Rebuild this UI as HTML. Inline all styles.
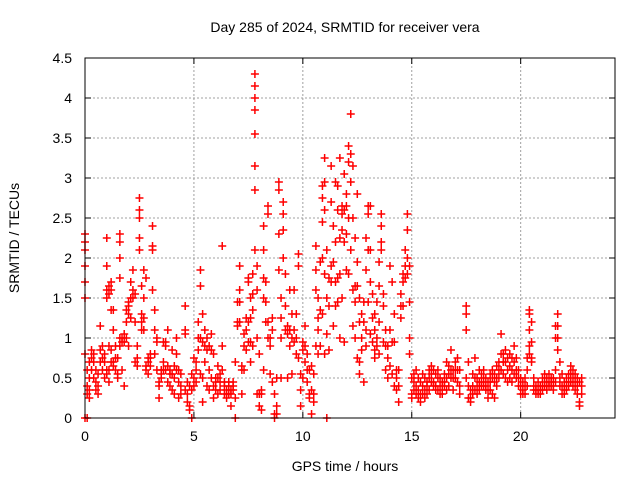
<!DOCTYPE html>
<html><head><meta charset="utf-8"><style>
body{margin:0;background:#fff}
svg text{font-family:"Liberation Sans",sans-serif;font-size:14px;fill:#000}
</style></head><body>
<svg id="chart" width="640" height="480" xmlns="http://www.w3.org/2000/svg">
<rect width="640" height="480" fill="#fff"/>
<text x="345" y="32" text-anchor="middle">Day 285 of 2024, SRMTID for receiver vera</text>
<text x="345" y="471" text-anchor="middle">GPS time / hours</text>
<text transform="translate(19,238) rotate(-90)" text-anchor="middle">SRMTID / TECUs</text>
<g id="grid"></g>
<g id="marks"></g>
<rect x="85" y="58" width="530" height="360" fill="none" stroke="#000" stroke-width="1"/>
</svg>
<script>
const xTicks=[0,5,10,15,20];
const yTicks=[0,0.5,1,1.5,2,2.5,3,3.5,4,4.5];
const yTickLabels=["0","0.5","1","1.5","2","2.5","3","3.5","4","4.5"];
const hours=[0,0.1,0.2,0.3,0.4,0.5,0.6,0.7,0.8,0.9,1.0,1.1,1.2,1.3,1.4,1.5,1.6,1.7,1.8,1.9,2.0,2.1,2.2,2.3,2.4,2.5,2.6,2.7,2.8,2.9,3.0,3.1,3.2,3.3,3.4,3.5,3.6,3.7,3.8,3.9,4.0,4.1,4.2,4.3,4.4,4.6,4.7,4.8,4.9,5.0,5.1,5.2,5.3,5.4,5.5,5.6,5.7,5.8,5.9,6.0,6.1,6.2,6.3,6.4,6.5,6.6,6.7,6.8,6.9,7.0,7.1,7.2,7.3,7.4,7.5,7.6,7.7,7.8,7.9,8.0,8.1,8.2,8.3,8.4,8.5,8.6,8.7,8.8,8.9,9.0,9.1,9.2,9.3,9.4,9.5,9.6,9.7,9.8,9.9,10.0,10.1,10.2,10.3,10.4,10.5,10.6,10.7,10.8,10.9,11.0,11.1,11.2,11.3,11.4,11.5,11.6,11.7,11.8,11.9,12.0,12.1,12.2,12.3,12.4,12.5,12.6,12.7,12.8,12.9,13.0,13.1,13.2,13.3,13.4,13.5,13.6,13.7,13.8,13.9,14.0,14.1,14.2,14.3,14.4,14.5,14.6,14.7,14.8,14.9,15.0,15.1,15.2,15.3,15.4,15.5,15.6,15.7,15.8,15.9,16.0,16.1,16.2,16.3,16.4,16.5,16.6,16.7,16.8,16.9,17.0,17.1,17.2,17.5,17.6,17.7,17.8,17.9,18.0,18.1,18.2,18.3,18.4,18.5,18.6,18.7,18.8,18.9,19.0,19.1,19.2,19.3,19.4,19.5,19.6,19.7,19.8,19.9,20.0,20.1,20.2,20.3,20.4,20.5,20.6,20.7,20.8,20.9,21.0,21.1,21.2,21.3,21.4,21.5,21.6,21.7,21.8,21.9,22.0,22.1,22.2,22.3,22.4,22.5,22.6,22.7,22.8];
const srmtid=[[2.3,2.2,2.1,1.9,1.7,1.5,0.8,0],[0.6,0.4,0.3,0],[0.7,0.5,0.35,0.25],[0.85,0.75,0.6],[0.8,0.7,0.5],[0.6,0.45,0.35],[0.4,0.3,0.55],[0.85,0.7,1.15],[0.9,0.75,0.6],[0.7,0.5,0.8],[2.25,1.9,1.6,1.5,0.6,0.55],[1.65,1.55,0.9,0.45,0.6],[1.7,1.6,1.35,0.85,0.7],[1.35,1.1,0.7,0.65],[0.9,0.75,0.6],[0.75,0.55,0.5],[2.3,2.2,2.0,1.75,1.0,0.9],[1.0,0.95,0.6],[1.05,0.95,0.4],[1.35,1.2,1.0],[1.45,1.4,1.3,0.9],[1.7,1.5,1.25],[1.85,1.6,1.5],[1.55,1.2,0.7],[0.75,0.65,0.9],[2.75,2.6,2.5,2.25,2.1],[1.65,1.3,1.2,1.1],[1.85,1.5,1.25,1.1],[1.75,0.65,0.6],[0.7,0.75,0.55],[0.8,0.75,0.65],[2.4,2.15,2.1,1.6],[1.35,1.1,0.8],[1.0,0.95,0.6],[0.45,0.4,0.25],[0.6,0.55,0.5],[0.95,0.7,0.6],[0.95,0.9,0.6],[1.1,0.65,0.45],[0.6,0.55,0.4],[0.85,0.55,0.35],[0.65,0.5,0.3],[1.0,0.8,0.6],[0.6,0.45,0.25],[0.55,0.4,0.3],[1.4,1.1,1.05,0.35],[0.45,0.3,0.2],[0.4,0.15,0.1],[0.55,0.35,0],[0.75,0.5,0.4],[0.7,0.6,0.45],[1.2,1.0,0.85],[1.85,1.65,1.0,0.55],[1.3,0.95,0.5,0.2],[1.1,0.9,0.7],[1.0,0.85,0.4],[0.9,0.6,0.35],[1.05,0.85,0.5],[0.8,0.4,0.25],[0.5,0.35,0.45],[0.65,0.5,0.3],[0.55,0.45,0.35],[2.15,0.9,0.6],[0.45,0.3,0.4],[0.35,0.3,0.25],[0.4,0.3,0.45],[0.35,0.3,0.15],[0.45,0.4,0.35],[0.7,0.25,0],[1.45,1.2,1.15],[1.9,1.6,1.45,1.2],[0.65,0.6,0.3],[1.05,0.9,0.6],[1.25,1.1,0.85],[1.75,1.7,1.2,0.95],[1.5,1.25,0.95,0.7],[1.8,1.55,1.35,0.9],[4.3,4.15,4.0,3.85,3.55,3.15,2.85,2.1],[1.9,1.6,1.0,0.3],[0.8,0.3,0.15],[0.35,0.3,0.1],[2.4,2.1,1.75,1.5,0.6],[1.7,1.45,1.2],[2.65,2.55,1.2,1.0],[1.0,0.9,0.55],[1.25,1.1,0.45],[0.3,0.05,0],[0.5,0.15,0.05],[2.95,2.85,2.3,1.85],[1.5,1.25,1.0,0.5],[2.7,2.55,2.35,2.0],[1.8,1.4,1.1],[1.15,1.05,0.5],[1.6,1.1,0.9],[1.3,1.0,0.55],[1.6,1.1,0.95],[1.3,1.0,0.8],[2.05,1.9,0.75],[0.55,0.35,0.15],[0.95,0.85,0.5],[1.15,0.9,0.7],[0.8,0.6,0.45],[0.6,0.3,0.25],[0.65,0.35,0.05],[0.55,0.3,0.2],[2.15,1.85,1.6,0.9],[1.5,1.25,1.1,0.8],[1.95,1.35,0.9],[2.9,2.75,2.45,2.0,1.3],[3.25,2.95,2.6,1.8,0.8],[2.1,1.5,1.05,0],[1.75,1.4,0.85],[3.15,2.7,1.9,1.7],[2.4,1.95,1.15],[2.95,2.2,1.7,1.4],[2.9,2.6,1.75,1.45],[3.25,2.25,1.8,1.0],[2.65,2.55,2.35,1.5],[3.05,2.6,2.2,0.95],[2.8,2.65,2.3,1.85],[3.4,3.2,2.5,1.8],[3.8,3.3,2.95,2.1],[3.15,2.5,1.6,1.15],[2.25,1.65,1.45,1.0],[2.8,1.95,1.65,0.75],[1.5,1.2,0.7,0.55],[1.3,1.0,0.85],[1.45,1.2,0.45],[2.25,1.85,1.1,0.9],[2.65,2.55,2.1,1.45],[2.65,2.1,1.7,1.05],[1.55,1.25,0.95],[1.3,1.1,0.85,0.75],[1.45,1.0,0.9],[1.95,1.65,1.2,0.8],[2.55,2.4,2.2,2.1],[1.55,1.4,0.95],[1.1,0.9,0.6],[0.9,0.75,0.5],[1.9,1.1,0.65],[1.7,0.95,0.55],[1.3,0.95,0.4],[0.6,0.5,0.35],[0.6,0.4,0.2],[1.55,1.4,1.25],[1.8,1.7,1.4],[2.1,1.9,1.75],[2.55,2.35,2.0,1.8],[1.9,1.45,1.0,0.8],[0.5,0.3,0.25],[0.45,0.35,0.55],[0.6,0.4,0.3],[0.5,0.35,0.25],[0.45,0.3,0.2],[0.55,0.4,0.3],[0.5,0.35,0.25],[0.45,0.3,0.4],[0.6,0.5,0.35],[0.65,0.55,0.45],[0.6,0.45,0.4],[0.55,0.4,0.35],[0.6,0.5,0.35],[0.5,0.4,0.3],[0.45,0.35,0.3],[0.55,0.45,0.4],[0.7,0.5,0.35],[0.65,0.55,0.4],[0.85,0.6,0.5],[0.6,0.5,0.35],[0.7,0.6,0.5],[0.75,0.6,0.45],[0.6,0.4,0.3],[1.4,1.3,1.1,0.5],[0.7,0.4,0.25],[0.35,0.25,0.2],[0.55,0.4,0.3],[0.75,0.5,0.35],[0.5,0.4,0.3],[0.6,0.45,0.35],[0.55,0.45,0.4],[0.6,0.5,0.4],[0.5,0.4,0.35],[0.45,0.35,0.25],[0.55,0.45,0.35],[0.6,0.5,0.3],[0.55,0.45,0.25],[0.65,0.5,0.4],[0.7,0.6,0.5],[1.05,0.8,0.6],[0.8,0.7,0.55],[0.85,0.7,0.5],[0.75,0.6,0.45],[0.8,0.65,0.5],[0.75,0.6,0.45],[0.9,0.7,0.55],[0.75,0.6,0.5],[0.6,0.5,0.4],[0.5,0.4,0.3],[0.45,0.35,0.3],[0.5,0.4,0.3],[0.75,0.6,0.4],[1.35,1.3,1.1,0.9,0.8],[1.2,0.95,0.75,0.7],[0.5,0.4,0.35],[0.4,0.35,0.3],[0.45,0.35,0.3],[0.4,0.3,0.35],[0.5,0.4,0.35],[0.55,0.45,0.4],[0.5,0.4,0.35],[0.55,0.45,0.4],[0.5,0.45,0.4],[0.5,0.4,0.35],[1.15,1.0,0.6,0.45],[1.3,1.15,1.0,0.85],[0.7,0.5,0.4],[0.55,0.4,0.3],[0.45,0.35,0.3],[0.5,0.4,0.35],[0.55,0.45,0.4],[0.65,0.55,0.45],[0.6,0.5,0.4],[0.55,0.45,0.35],[0.5,0.4,0.3],[0.45,0.2,0.15],[0.5,0.4,0.3]];
const X0=85,X1=615,Y0=418,Y1=58,XMAX=24.33,YMAX=4.5;
const sx=v=>X0+v/XMAX*(X1-X0);
const sy=v=>Y0-v/YMAX*(Y0-Y1);
const NS="http://www.w3.org/2000/svg";
const grid=document.getElementById('grid');
const marks=document.getElementById('marks');
function mk(tag,attrs,parent){const e=document.createElementNS(NS,tag);for(const k in attrs)e.setAttribute(k,attrs[k]);parent.appendChild(e);return e;}
xTicks.forEach(t=>{
  const x=sx(t);
  if(t>0){const g=mk('line',{x1:x,x2:x,y1:Y1,y2:Y0,stroke:'#a0a0a0','stroke-dasharray':'2,2'},grid);
  
  }
  mk('line',{x1:x,x2:x,y1:Y0,y2:Y0-6,stroke:'#000'},grid);
  mk('line',{x1:x,x2:x,y1:Y1,y2:Y1+6,stroke:'#000'},grid);
  const l=mk('text',{x:x,y:Y0+23,'text-anchor':'middle'},grid);l.textContent=String(t);
  
  
});
yTicks.forEach((t,i)=>{
  const y=sy(t);
  if(t>0&&t<YMAX){const g=mk('line',{x1:X0,x2:X1,y1:y,y2:y,stroke:'#a0a0a0','stroke-dasharray':'2,2'},grid);
  
  }
  mk('line',{x1:X0,x2:X0+6,y1:y,y2:y,stroke:'#000'},grid);
  mk('line',{x1:X1,x2:X1-6,y1:y,y2:y,stroke:'#000'},grid);
  const l=mk('text',{x:72,y:y+5,'text-anchor':'end'},grid);l.textContent=yTickLabels[i];
  
  
});
hours.forEach((h,i)=>{
  (srmtid[i]||[]).forEach(v=>{
    const x=sx(h),y=sy(v);
    const p=mk('path',{d:`M${x-4},${y}h8M${x},${y-4}v8`,stroke:'#f00','stroke-width':1.5},marks);
    
    
  });
});
</script>
</body></html>
